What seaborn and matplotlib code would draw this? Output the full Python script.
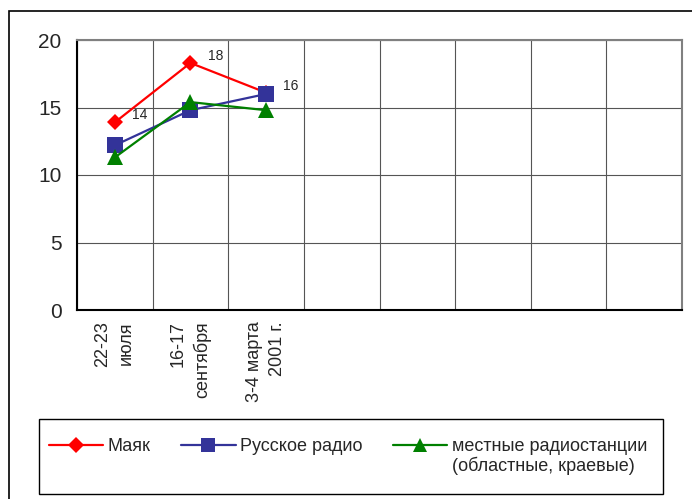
import matplotlib
matplotlib.use("Agg")
import matplotlib.pyplot as plt
import matplotlib.patches as mpatches
from matplotlib.ticker import FixedLocator, NullFormatter, FixedFormatter
import seaborn as sns
import pandas as pd

categories = ["22-23\nиюля", "16-17\nсентября", "3-4 марта\n2001 г.", "", "", "", "", ""]
series_names = ["Маяк", "Русское радио", "местные радиостанции\n(областные, краевые)"]
mayak = [13.9, 18.3, 16.1]
russkoe = [12.2, 14.8, 16.0]
mestnye = [11.3, 15.4, 14.8]
mayak_labels = ["14", "18", "16"]
colors = ["#FF0000", "#333399", "#008000"]
markers = ["D", "s", "^"]
marker_sizes = [8.5, 11, 11]
yticks = [0, 5, 10, 15, 20]

rows = []
for name, vals in zip(series_names, [mayak, russkoe, mestnye]):
    for i, v in enumerate(vals):
        rows.append({"x": i, "y": v, "series": name})
df = pd.DataFrame(rows)

sns.set_style("white")
plt.rcParams["font.family"] = ["Liberation Sans", "DejaVu Sans"]

fig = plt.figure(figsize=(6.92, 4.99), dpi=100)
ax = fig.add_axes([77/692, 1-310/499, (682-77)/692, (310-40)/499])

sns.lineplot(data=df, x="x", y="y", hue="series", style="series",
             palette=colors, markers=markers, dashes=False, markersize=10,
             linewidth=1.6, markeredgewidth=0, ax=ax, legend=True)
for line, ms in zip(ax.lines, marker_sizes):
    line.set_markersize(ms)

n = len(categories)
ax.set_xlim(-0.5, n - 0.5)
ax.set_ylim(0, 20)
ax.set_yticks(yticks)
ax.set_yticklabels([str(t) for t in yticks], fontsize=15)
ax.xaxis.set_major_locator(FixedLocator([i - 0.5 for i in range(n + 1)]))
ax.xaxis.set_major_formatter(NullFormatter())
ax.xaxis.set_minor_locator(FixedLocator(list(range(n))))
ax.xaxis.set_minor_formatter(FixedFormatter(categories))
ax.tick_params(axis="x", which="minor", length=0, labelsize=13, pad=8)
for lab in ax.get_xticklabels(minor=True):
    lab.set_rotation(90)
    lab.set_multialignment("right")
    lab.set_ha("center")
    lab.set_linespacing(1.5)
ax.tick_params(axis="x", which="major", length=5, width=1, color="black", direction="out")
ax.tick_params(axis="y", length=5, width=1, color="black", direction="out", pad=6)
ax.set_xlabel("")
ax.set_ylabel("")
ax.grid(True, which="major", color="#555555", linewidth=0.8)
ax.set_axisbelow(True)
for s in ["top", "right"]:
    ax.spines[s].set_color("#808080")
    ax.spines[s].set_linewidth(1.5)
for s in ["left", "bottom"]:
    ax.spines[s].set_color("black")
    ax.spines[s].set_linewidth(1.5)

for i, (v, t) in enumerate(zip(mayak, mayak_labels)):
    ax.annotate(t, (i, v), xytext=(18, 5), textcoords="offset points",
                fontsize=10, ha="center", va="center")

handles, labels = ax.get_legend_handles_labels()
for h, ms in zip(handles, marker_sizes):
    h.set_markersize(ms * 0.95)
ax.get_legend().remove()
leg = fig.legend(handles, labels, loc="upper left", ncol=3,
                 bbox_to_anchor=(49/692, 1-438/499),
                 fontsize=13, frameon=False, handlelength=3.0, handletextpad=0.25,
                 handleheight=1.0,
                 borderaxespad=0, borderpad=0, columnspacing=1.7)
for t in leg.get_texts():
    t.set_linespacing(1.1)
leg._legend_handle_box.align = "top"
for col in leg._legend_handle_box.get_children():
    col.align = "top"
    for hp in col.get_children():
        hp.align = "top"

frame = mpatches.Rectangle((39/692, 1-494/499), (663-39)/692, (494-419)/499,
                           transform=fig.transFigure, fill=False, edgecolor="black",
                           linewidth=1.0)
fig.patches.append(frame)

border = mpatches.Rectangle((9/692, -0.1), 1.2, 1 - 11/499 + 0.1, transform=fig.transFigure,
                            fill=False, edgecolor="black", linewidth=1.2, clip_on=False)
fig.patches.append(border)

fig.savefig("out.png", dpi=100)
